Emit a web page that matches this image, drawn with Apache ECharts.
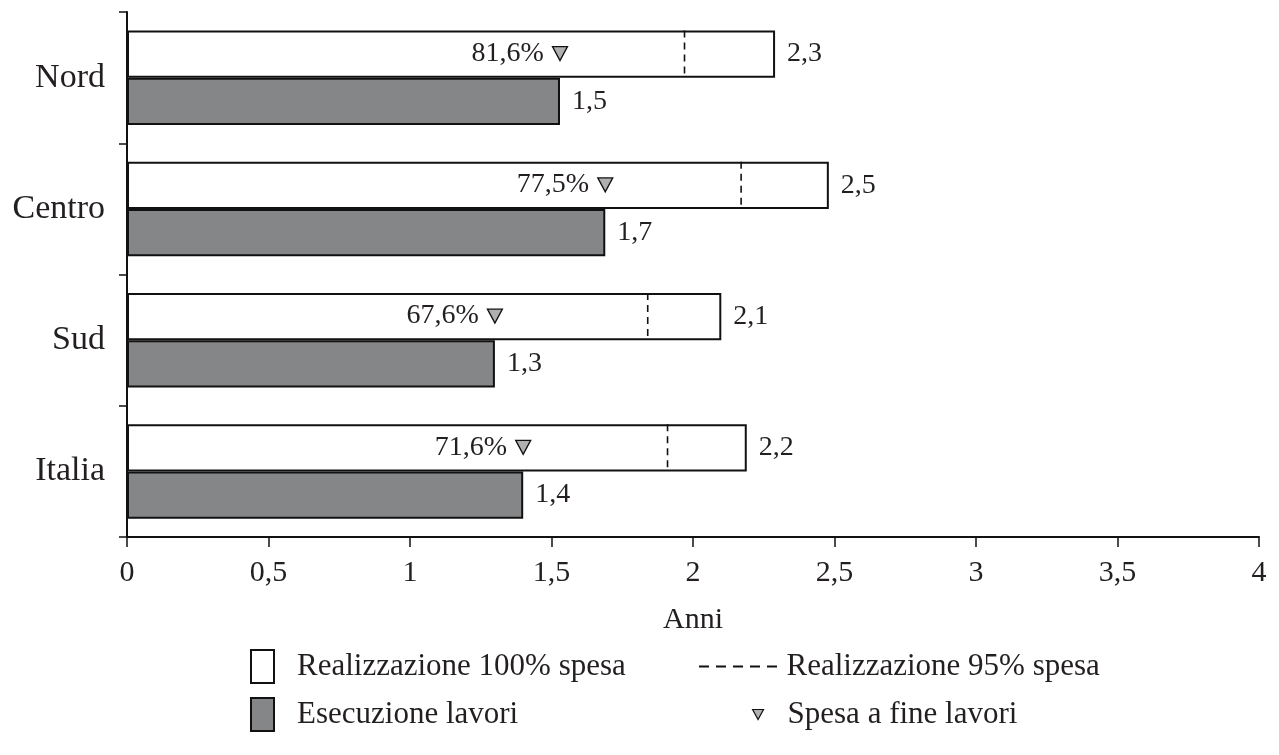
<!DOCTYPE html>
<html>
<head>
<meta charset="utf-8">
<script src="https://cdn.jsdelivr.net/npm/echarts@6/dist/echarts.min.js"></script>
<style>html,body{margin:0;padding:0;background:#fff;}#c{width:1279px;height:755px;}</style>
</head>
<body>
<div id="c"></div>
<script>
const categories = ['Nord', 'Centro', 'Sud', 'Italia'];
const real100 = [2.29, 2.48, 2.10, 2.19];
const real95 = [1.97, 2.17, 1.84, 1.91];
const esecuzione = [1.53, 1.69, 1.30, 1.40];
const spesaPct = [81.6, 77.5, 67.6, 71.6];
const xTicks = [0, 0.5, 1, 1.5, 2, 2.5, 3, 3.5, 4];

const FONT = '"Liberation Serif", "DejaVu Serif", serif';
const TXT = '#231f20';
const comma = v => String(v).replace('.', ',');
const fmt1 = v => v.toFixed(1).replace('.', ',');

const chart = echarts.init(document.getElementById('c'), null, {renderer: 'canvas'});

const option = {
  backgroundColor: '#fff',
  animation: false,
  textStyle: {fontFamily: FONT, color: TXT},
  grid: {left: 127, right: 20, top: 12, bottom: 218, containLabel: false},
  xAxis: {
    type: 'value', min: xTicks[0], max: xTicks[xTicks.length - 1], interval: 0.5,
    axisLine: {show: true, lineStyle: {color: '#111', width: 2}},
    axisTick: {show: true, length: 10, inside: false, lineStyle: {color: '#111', width: 1.5}},
    splitLine: {show: false},
    axisLabel: {margin: 21, fontSize: 30, fontFamily: FONT, color: TXT, formatter: v => comma(v)},
    name: 'Anni', nameLocation: 'middle', nameGap: 68,
    nameTextStyle: {fontSize: 30, fontFamily: FONT, color: TXT}
  },
  yAxis: {
    type: 'category', data: categories, inverse: true,
    axisLine: {show: true, lineStyle: {color: '#111', width: 2}},
    axisTick: {show: true, length: 8, inside: false, lineStyle: {color: '#111', width: 1.5}},
    axisLabel: {margin: 22, fontSize: 34, fontFamily: FONT, color: TXT}
  },
  legend: [
    {data: ['Realizzazione 100% spesa'], left: 245, top: 644, itemWidth: 23, itemHeight: 33, icon: 'rect',
     selectedMode: false, itemStyle: {color: '#fff', borderColor: '#111', borderWidth: 2},
     textStyle: {fontSize: 31, fontFamily: FONT, color: TXT, padding: [0, 0, 0, 18]}},
    {data: ['Esecuzione lavori'], left: 245, top: 692, itemWidth: 23, itemHeight: 33, icon: 'rect',
     selectedMode: false, itemStyle: {color: '#858688', borderColor: '#111', borderWidth: 2},
     textStyle: {fontSize: 31, fontFamily: FONT, color: TXT, padding: [0, 0, 0, 18]}},
    {data: [{name: 'Realizzazione 95% spesa', icon: 'path://M0,0H10V2H0Z M17,0H27V2H17Z M34,0H44V2H34Z M51,0H61V2H51Z M68,0H78V2H68Z'}],
     left: 694, top: 646, itemWidth: 79, itemHeight: 2, selectedMode: false,
     textStyle: {fontSize: 31, fontFamily: FONT, color: TXT, padding: [0, 0, 0, 4]}},
    {data: [{name: 'Spesa a fine lavori', icon: 'path://M0,0L12,0L6,11Z'}],
     left: 747, top: 694, itemWidth: 11, itemHeight: 10, selectedMode: false,
     itemStyle: {color: '#b0b0b0', borderColor: '#111', borderWidth: 1.2},
     textStyle: {fontSize: 31, fontFamily: FONT, color: TXT, padding: [0, 0, 0, 19]}}
  ],
  series: [
    {
      name: 'Realizzazione 100% spesa', type: 'bar', data: real100,
      barGap: '0%', barCategoryGap: '28%',
      itemStyle: {color: '#fff', borderColor: '#111', borderWidth: 2},
      label: {show: true, position: 'right', distance: 12, fontSize: 28, fontFamily: FONT, color: TXT,
              formatter: p => fmt1(p.value)}
    },
    {
      name: 'Esecuzione lavori', type: 'bar', data: esecuzione,
      barGap: '0%', barCategoryGap: '28%',
      itemStyle: {color: '#858688', borderColor: '#111', borderWidth: 2},
      label: {show: true, position: 'right', distance: 12, fontSize: 28, fontFamily: FONT, color: TXT,
              formatter: p => fmt1(p.value)}
    },
    {
      name: 'Realizzazione 95% spesa', type: 'custom',
      itemStyle: {color: '#111'},
      data: real95.map((v, i) => [v, i]),
      renderItem: function (params, api) {
        const p = api.coord([api.value(0), api.value(1)]);
        const band = api.size([0, 1])[1];
        const h = band * 0.36;
        return {
          type: 'line',
          shape: {x1: p[0], y1: p[1] - h, x2: p[0], y2: p[1]},
          style: {stroke: '#111', lineWidth: 1.6, lineDash: [7, 5]}
        };
      },
      z: 5
    },
    {
      name: 'Spesa a fine lavori', type: 'scatter',
      symbol: 'path://M0,0L12,0L6,11Z', symbolSize: [15, 14], symbolOffset: [0, -24],
      itemStyle: {color: '#b0b0b0', borderColor: '#111', borderWidth: 1.3, opacity: 1},
      data: esecuzione.map((v, i) => [v, i, spesaPct[i]]),
      label: {show: true, position: 'left', distance: 8, fontSize: 28, fontFamily: FONT, color: TXT,
              formatter: p => comma(p.data[2]) + '%'},
      z: 6
    }
  ]
};
chart.setOption(option);
</script>
</body>
</html>
